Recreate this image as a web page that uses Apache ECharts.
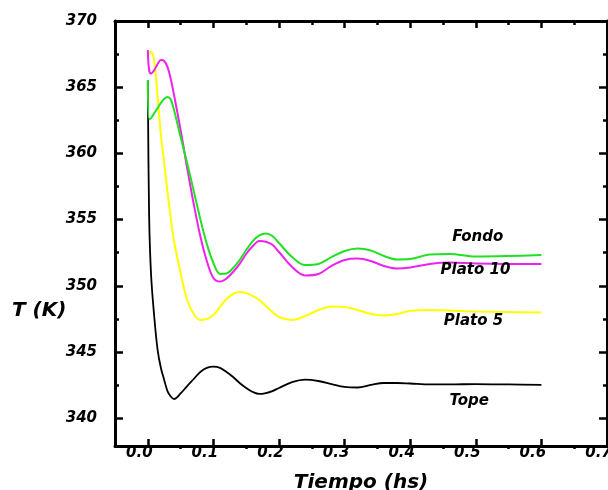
<!DOCTYPE html>
<html>
<head>
<meta charset="utf-8">
<script src="https://cdn.jsdelivr.net/npm/echarts@6/dist/echarts.min.js"></script>
<style>html,body{margin:0;padding:0;background:#fff;}#c{width:608px;height:490px;}</style>
</head>
<body>
<div id="c"></div>
<script>
// Time (hs)
const times = [0, 0.002, 0.005, 0.01, 0.015, 0.02, 0.025, 0.03, 0.035, 0.04, 0.05, 0.06, 0.07, 0.08, 0.09,
  0.10, 0.11, 0.12, 0.13, 0.14, 0.15, 0.16, 0.17, 0.18, 0.19, 0.20, 0.22, 0.24, 0.26, 0.28, 0.30,
  0.32, 0.34, 0.36, 0.38, 0.40, 0.43, 0.46, 0.50, 0.55, 0.60];
// Temperatures (K)
const tope = [365.5, 355.35, 350.82, 347.57, 345.15, 343.79, 342.89, 342.05, 341.64, 341.45, 341.87, 342.43, 342.96, 343.49, 343.8,
  343.89, 343.8, 343.49, 343.11, 342.66, 342.28, 341.98, 341.83, 341.9, 342.05, 342.28, 342.73, 342.92, 342.81, 342.58, 342.36,
  342.32, 342.51, 342.66, 342.66, 342.62, 342.55, 342.55, 342.58, 342.55, 342.51];
const plato5 = [367.36, 367.58, 367.66, 366.9, 364.26, 361.39, 359.27, 357.08, 355.12, 353.38, 350.97, 348.93, 347.87, 347.42, 347.49,
  347.8, 348.4, 349.0, 349.38, 349.53, 349.46, 349.23, 348.93, 348.47, 348.02, 347.64, 347.42, 347.72, 348.17, 348.44, 348.4,
  348.17, 347.87, 347.76, 347.87, 348.1, 348.17, 348.13, 348.06, 348.02, 347.98];
const plato10 = [367.81, 366.3, 366.03, 366.3, 366.75, 367.05, 366.98, 366.53, 365.62, 364.41, 361.77, 358.9, 356.18, 353.76, 351.87,
  350.59, 350.32, 350.55, 351.04, 351.65, 352.4, 353.0, 353.38, 353.33, 353.1, 352.55, 351.42, 350.78, 350.89, 351.5, 351.95,
  352.06, 351.87, 351.5, 351.31, 351.38, 351.65, 351.76, 351.68, 351.65, 351.65];
const fondo = [365.5, 362.6, 362.67, 363.05, 363.43, 363.81, 364.11, 364.26, 364.07, 363.28, 361.24, 359.27, 357.16, 355.05, 353.16,
  351.72, 350.9, 350.93, 351.34, 351.95, 352.7, 353.38, 353.8, 353.95, 353.76, 353.23, 352.17, 351.57, 351.65, 352.17, 352.63,
  352.82, 352.67, 352.25, 351.99, 352.02, 352.36, 352.4, 352.21, 352.25, 352.33];
// Series names and label anchor (t, T)
const seriesNames = ['Tope', 'Plato 5', 'Plato 10', 'Fondo'];
const labelAnchors = [[0.49, 341.3], [0.4964, 347.34], [0.4994, 351.19], [0.503, 353.65]];
// Ticks
const xMajor = [0.0, 0.1, 0.2, 0.3, 0.4, 0.5, 0.6, 0.7];
const xMinor = [0.05, 0.15, 0.25, 0.35, 0.45, 0.55, 0.65];
const yMajor = [340, 345, 350, 355, 360, 365, 370];
const yMinor = [342.5, 347.5, 352.5, 357.5, 362.5, 367.5];

const colors = ['#000000', '#ffff00', '#ee22ee', '#22e022'];
const widths = [1.8, 2, 2, 2];
const FONT = 'DejaVu Sans';
const allSeries = [tope, plato5, plato10, fondo];

const xRange = { min: -0.05, max: 0.7 };
const yRange = { min: 337.9, max: 370 };

function xAx(pos, vals, len, inside, showLine, showLabel, extra) {
  return Object.assign({
    type: 'value', position: pos, min: xRange.min, max: xRange.max,
    axisLine: { show: showLine, onZero: false, lineStyle: { color: '#000', width: 3 } },
    axisTick: { show: true, inside: inside, length: len, customValues: vals, lineStyle: { color: '#000', width: 2.5 } },
    axisLabel: { show: showLabel, customValues: vals, formatter: v => v.toFixed(1), margin: 0,
      padding: [0, 17, 0, 0], fontFamily: FONT, fontWeight: 'bold', fontStyle: 'italic', fontSize: 15, color: '#000' },
    splitLine: { show: false }
  }, extra || {});
}
function yAx(pos, vals, len, showLine, showLabel) {
  return {
    type: 'value', position: pos, min: yRange.min, max: yRange.max,
    axisLine: { show: showLine, onZero: false, lineStyle: { color: '#000', width: 3 } },
    axisTick: { show: true, inside: true, length: len, customValues: vals, lineStyle: { color: '#000', width: 2.5 } },
    axisLabel: { show: showLabel, customValues: vals, formatter: v => String(Math.round(v)), margin: 18,
      verticalAlign: 'middle', padding: [0, 0, 16, 0],
      fontFamily: FONT, fontWeight: 'bold', fontStyle: 'italic', fontSize: 15, color: '#000' },
    splitLine: { show: false }
  };
}

const chart = echarts.init(document.getElementById('c'), null, { renderer: 'canvas' });
chart.setOption({
  animation: false,
  backgroundColor: '#fff',
  grid: { left: 115, right: 1, top: 21, bottom: 44, containLabel: false, outerBoundsMode: 'none' },
  xAxis: [
    xAx('bottom', xMajor, 7, true, true, true, {
      name: 'Tiempo (hs)', nameLocation: 'middle', nameGap: 27,
      nameTextStyle: { fontFamily: FONT, fontWeight: 'bold', fontStyle: 'italic', fontSize: 20, color: '#000' }
    }),
    xAx('bottom', xMinor, 3, false, false, false),
    xAx('top', xMajor, 7, true, true, false),
    xAx('top', xMinor, 4, true, false, false)
  ],
  yAxis: [
    yAx('left', yMajor, 8, true, true),
    yAx('left', yMinor, 4, false, false),
    yAx('right', yMajor, 8, true, false),
    yAx('right', yMinor, 4, false, false)
  ],
  graphic: [{
    type: 'text', left: 12, top: 301,
    style: { text: 'T (K)', fontFamily: FONT, fontWeight: 'bold', fontStyle: 'italic', fontSize: 20, fill: '#000' }
  }],
  series: allSeries.map((vals, i) => ({
    name: seriesNames[i], type: 'line', xAxisIndex: 0, yAxisIndex: 0,
    data: times.map((t, k) => [t, vals[k]]),
    smooth: 0.35, showSymbol: false, symbol: 'none',
    lineStyle: { color: colors[i], width: widths[i] },
    markPoint: {
      symbol: 'circle', symbolSize: 1, itemStyle: { color: 'rgba(0,0,0,0)' },
      label: { show: true, position: 'inside', formatter: seriesNames[i], color: '#000',
        fontFamily: FONT, fontWeight: 'bold', fontStyle: 'italic', fontSize: 15 },
      data: [{ coord: labelAnchors[i] }]
    }
  }))
});
</script>
</body>
</html>
